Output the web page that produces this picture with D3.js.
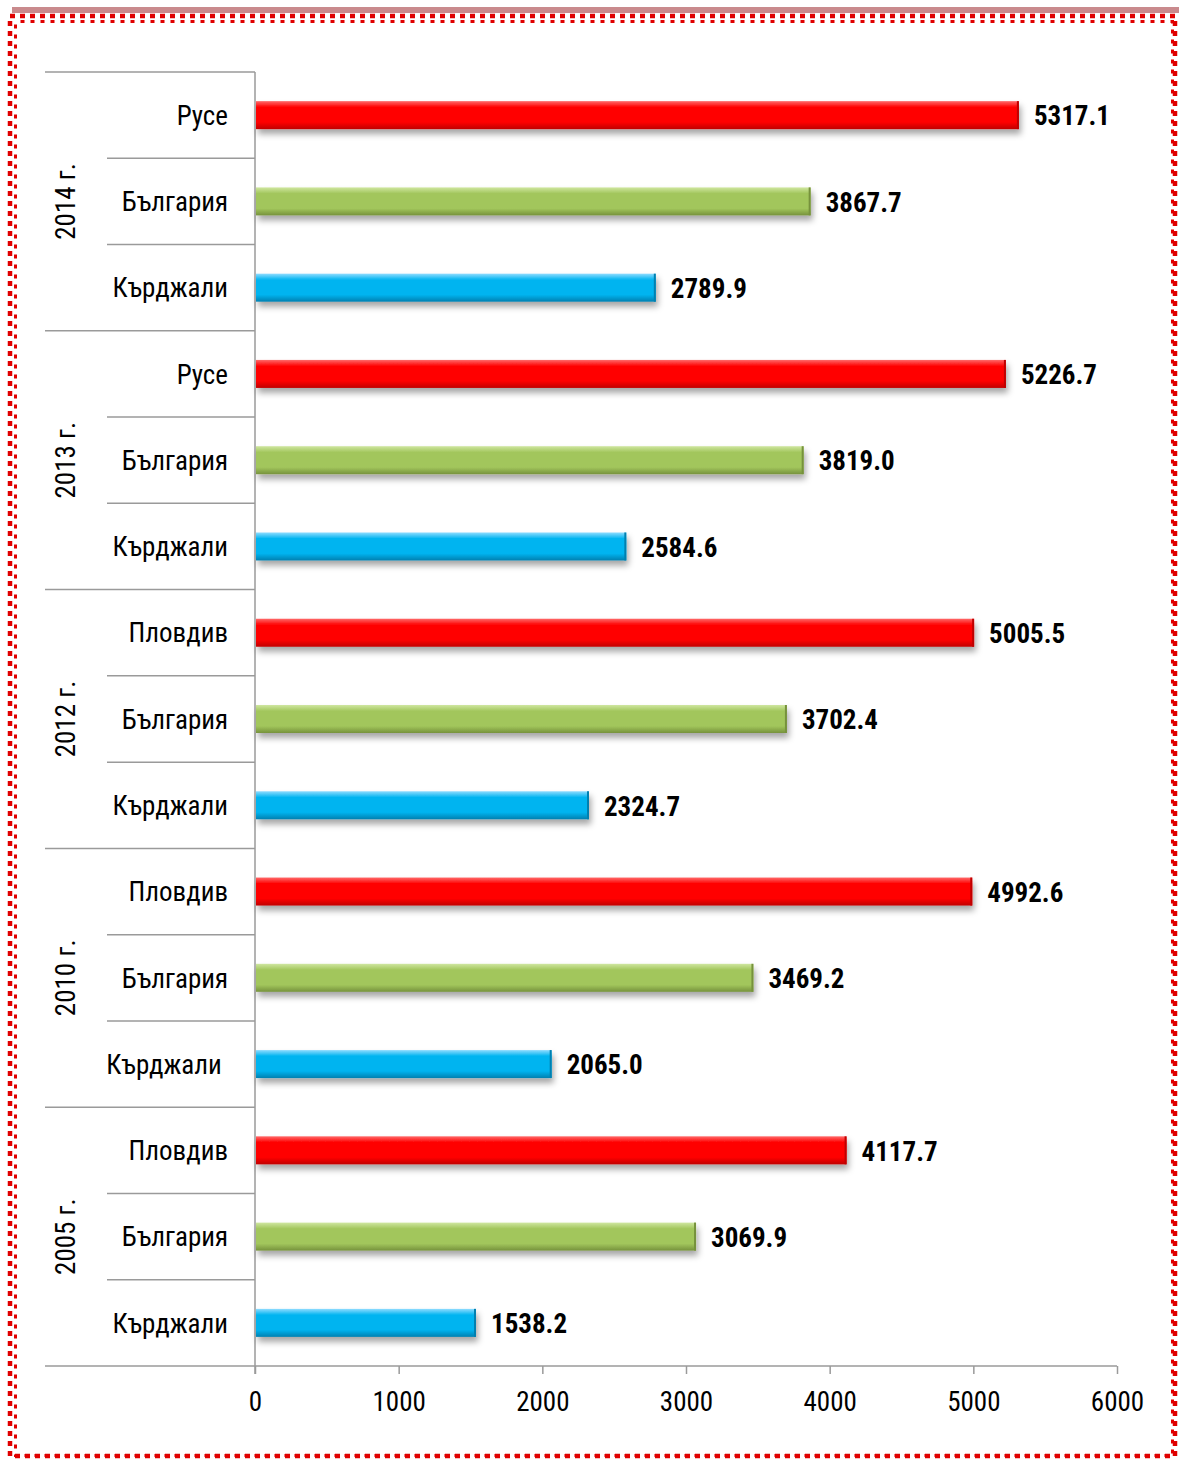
<!DOCTYPE html>
<html><head><meta charset="utf-8">
<script src="https://cdn.jsdelivr.net/npm/d3@7"></script>
<style>
html,body{margin:0;padding:0;background:#fff;}
svg{display:block;}
text{font-family:"Liberation Sans Narrow","Arial Narrow","Roboto Condensed",sans-serif;}
</style></head>
<body>
<svg id="c" width="1179" height="1461"></svg>
<script>
const years = ["2014 г.", "2013 г.", "2012 г.", "2010 г.", "2005 г."];
const groupCategories = [
  ["Русе", "България", "Кърджали"],
  ["Русе", "България", "Кърджали"],
  ["Пловдив", "България", "Кърджали"],
  ["Пловдив", "България", "Кърджали "],
  ["Пловдив", "България", "Кърджали"]
];
const groupValues = [
  [5317.1, 3867.7, 2789.9],
  [5226.7, 3819.0, 2584.6],
  [5005.5, 3702.4, 2324.7],
  [4992.6, 3469.2, 2065.0],
  [4117.7, 3069.9, 1538.2]
];
const seriesKinds = ["top", "bg", "kj"];
const xTicks = [0, 1000, 2000, 3000, 4000, 5000, 6000];

(function () {
const rows = [];
years.forEach((yr, gi) => {
  groupCategories[gi].forEach((cat, ci) => {
    rows.push({id: gi + "-" + ci, year: yr, gi, ci, cat, value: groupValues[gi][ci], kind: seriesKinds[ci]});
  });
});

const svg = d3.select("#c");
const colors = {top: ["#ff6a6a", "#ff0000", "#c00000"], bg: ["#cfe6a0", "#a2c65c", "#76923c"], kj: ["#8fdcff", "#00b4f0", "#0080b0"]};
const defs = svg.append("defs");
Object.entries(colors).forEach(([k, c]) => {
  const g = defs.append("linearGradient").attr("id", "g-" + k).attr("x1", 0).attr("x2", 0).attr("y1", 0).attr("y2", 1);
  g.append("stop").attr("offset", "0%").attr("stop-color", c[0]);
  g.append("stop").attr("offset", "22%").attr("stop-color", c[1]);
  g.append("stop").attr("offset", "75%").attr("stop-color", c[1]);
  g.append("stop").attr("offset", "100%").attr("stop-color", c[2]);
});
const f = defs.append("filter").attr("id", "sh").attr("x", "-5%").attr("y", "-30%").attr("width", "115%").attr("height", "190%");
f.append("feDropShadow").attr("dx", 2).attr("dy", 5).attr("stdDeviation", 3).attr("flood-color", "#000").attr("flood-opacity", 0.35);

// frame
svg.append("rect").attr("x", 12).attr("y", 7).attr("width", 1167).attr("height", 6).attr("fill", "#c98a8d");
svg.append("rect").attr("x", 10).attr("y", 16).attr("width", 1165).attr("height", 1440)
  .attr("fill", "none").attr("stroke", "#e00000").attr("stroke-width", 4.5).attr("stroke-dasharray", "5 5");
svg.append("rect").attr("x", 15.5).attr("y", 21.5).attr("width", 1157).attr("height", 1434)
  .attr("fill", "none").attr("stroke", "#e00000").attr("stroke-width", 3).attr("stroke-dasharray", "4 6").attr("stroke-dashoffset", 5);

const pLeft = 255, pRight = 1117, pTop = 72, pBottom = 1366;
const x = d3.scaleLinear().domain([0, 6000]).range([pLeft, pRight]);
const y = d3.scaleBand().domain(rows.map(r => r.id)).range([pTop, pBottom]).padding(0);
const bw = y.bandwidth();
const barH = 28;
const gray = "#9a9a9a";

// separators
const gl = svg.append("g");
rows.forEach((r) => {
  const yy = y(r.id);
  gl.append("line").attr("x1", r.ci === 0 ? 45 : 107).attr("x2", pLeft).attr("y1", yy).attr("y2", yy)
    .attr("stroke", gray).attr("stroke-width", 1.5);
});

// x axis
const xa = svg.append("g").attr("transform", `translate(0,${pBottom})`)
  .call(d3.axisBottom(x).tickValues(xTicks).tickSize(8).tickPadding(13).tickFormat(d3.format("d")));
xa.select(".domain").remove();
xa.selectAll(".tick line").attr("stroke", gray).attr("stroke-width", 1.5);
xa.selectAll(".tick text").attr("font-size", 27).attr("fill", "#000").attr("dy", "0.9em");
svg.append("line").attr("x1", 45).attr("x2", pRight).attr("y1", pBottom).attr("y2", pBottom).attr("stroke", gray).attr("stroke-width", 1.5);
svg.append("line").attr("x1", pLeft).attr("x2", pLeft).attr("y1", pTop).attr("y2", pBottom + 8).attr("stroke", gray).attr("stroke-width", 1.5);

// bars
const bars = svg.append("g");
bars.selectAll("rect").data(rows).join("rect")
  .attr("x", pLeft + 1)
  .attr("y", d => y(d.id) + (bw - barH) / 2)
  .attr("width", d => x(d.value) - pLeft - 1)
  .attr("height", barH)
  .attr("fill", d => `url(#g-${d.kind})`)
  .attr("filter", "url(#sh)");
bars.selectAll("line.end").data(rows).join("line").attr("class", "end")
  .attr("x1", d => x(d.value) - 1).attr("x2", d => x(d.value) - 1)
  .attr("y1", d => y(d.id) + (bw - barH) / 2).attr("y2", d => y(d.id) + (bw + barH) / 2)
  .attr("stroke", d => colors[d.kind][2]).attr("stroke-width", 2);

// value labels
svg.append("g").selectAll("text").data(rows).join("text")
  .attr("x", d => x(d.value) + 15)
  .attr("y", d => y(d.id) + bw / 2)
  .attr("dy", "0.38em")
  .attr("font-size", 27).attr("font-weight", "bold").attr("fill", "#000")
  .text(d => d.value.toFixed(1));

// category labels
svg.append("g").selectAll("text").data(rows).join("text")
  .attr("x", 228)
  .attr("y", d => y(d.id) + bw / 2)
  .attr("dy", "0.36em")
  .attr("text-anchor", "end")
  .attr("font-size", 27).attr("fill", "#000")
  .style("white-space", "pre")
  .text(d => d.cat);

// year labels
svg.append("g").selectAll("text").data(years).join("text")
  .attr("transform", (d, i) => {
    const cy = (y(i + "-0") + y(i + "-2") + bw) / 2;
    return `translate(75,${cy}) rotate(-90)`;
  })
  .attr("text-anchor", "middle")
  .attr("font-size", 27).attr("fill", "#000")
  .text(d => d);
})();
</script>
</body></html>
